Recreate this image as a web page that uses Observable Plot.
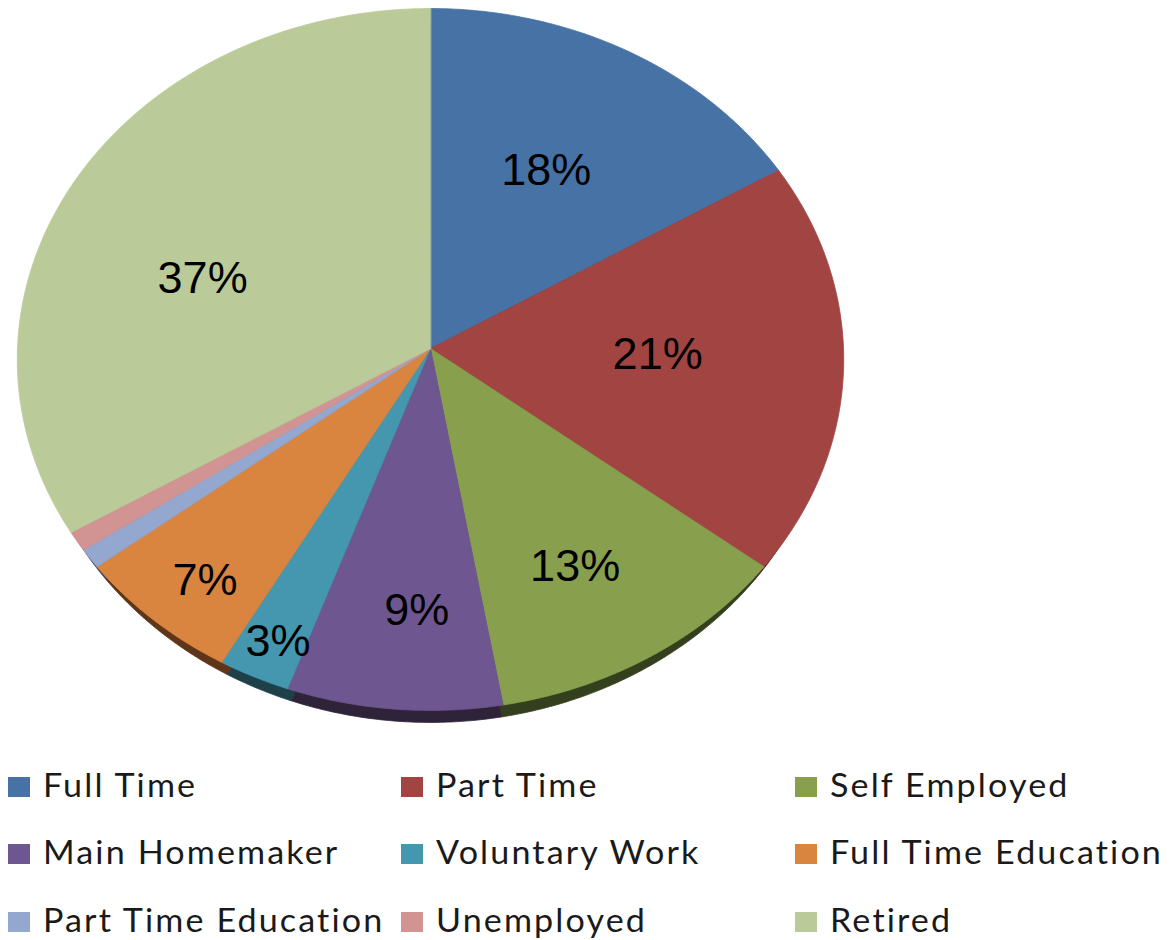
<!DOCTYPE html>
<html>
<head>
<meta charset="utf-8">
<script src="https://cdn.jsdelivr.net/npm/d3@7"></script>
<script src="https://cdn.jsdelivr.net/npm/@observablehq/plot@0.6"></script>
<style>
  html, body { margin: 0; padding: 0; background: #fff; }
  #wrap { position: relative; width: 1171px; height: 940px; overflow: hidden; }
  #legend { position: absolute; left: 0; top: 740px; width: 1171px; height: 200px; font-family: Lato, "Open Sans", sans-serif; font-size: 32px; color: #1a1a1a; }
  .item { position: absolute; height: 38px; line-height: 38px; white-space: nowrap; }
  .sw { position: absolute; width: 22px; height: 20px; }
  .tx { position: absolute; left: 35px; top: 0; letter-spacing: 2px; transform: scaleX(1.065); transform-origin: 0 0; }
</style>
</head>
<body>
<div id="wrap">
  <div id="chart"></div>
  <div id="legend"></div>
</div>
<script>
// ---- data ----
const categories = ["Full Time", "Part Time", "Self Employed", "Main Homemaker", "Voluntary Work",
  "Full Time Education", "Part Time Education", "Unemployed", "Retired"];
const values = [18, 21, 13, 9, 3, 7, 1, 1, 37];
const labels = ["18%", "21%", "13%", "9%", "3%", "7%", "", "", "37%"];
const colors = ["#4672A6", "#A14442", "#88A04E", "#6E5690", "#4497AE", "#DA853F", "#93A7CF", "#D29493", "#BACB99"];
const sideColors = ["#22374f", "#4e1f1f", "#333f1d", "#2e2339", "#1d4049", "#5e3518", "#3c4658", "#5a3a3a", "#4d5840"];

// ---- layout (3D tilted pie) ----
const W = 1171, H = 740;
const cx = 430, cy = 348, R = 413;       // apex and horizontal radius in px
const tilt = 350.6 / 413;                // vertical squash
const persp = 0.0313;                    // perspective (near side larger)
const depthPx = 12;                      // side wall thickness
// label placement: [fraction along slice angle, radius fraction]
const labelPlace = [[0.49, 0.59], [0.48, 0.55], [0.54, 0.70], [0.42, 0.73], [0.43, 0.89], [0.44, 0.84], null, null, [0.42, 0.59]];

function proj(u, v) {
  const w = 1 - persp * v;
  return [u / w, v * tilt / w];
}

const arcs = d3.pie().sort(null).value(d => d).startAngle(0).endAngle(2 * Math.PI)(values);

const topPts = [], sidePts = [], labelPts = [];
arcs.forEach((a, i) => {
  const key = categories[i];
  const n = Math.max(4, Math.ceil((a.endAngle - a.startAngle) / (Math.PI / 360)));
  const ring = [[0, 0]];
  for (let j = 0; j <= n; j++) {
    const t = a.startAngle + (a.endAngle - a.startAngle) * j / n;
    ring.push([Math.sin(t), -Math.cos(t)]);
  }
  ring.forEach(([u, v]) => {
    const [x, y] = proj(u, v);
    topPts.push({key, x, y});
    sidePts.push({key, x: x * 0.975, y: y + depthPx / R});
  });
  const lp = labelPlace[i];
  if (lp && labels[i]) {
    const t = a.startAngle + (a.endAngle - a.startAngle) * lp[0];
    const [x, y] = proj(lp[1] * Math.sin(t), -lp[1] * Math.cos(t));
    labelPts.push({key, x, y, text: labels[i]});
  }
});

const plot = Plot.plot({
  width: W,
  height: H,
  margin: 0,
  x: {domain: [-cx / R, (W - cx) / R], range: [0, W], axis: null},
  y: {domain: [-cy / R, (H - cy) / R], range: [0, H], axis: null},
  color: {domain: categories, range: colors},
  style: {background: "white"},
  marks: [
    Plot.line(sidePts, {x: "x", y: "y", z: "key", curve: "linear-closed",
      fill: d => sideColors[categories.indexOf(d.key)],
      stroke: d => sideColors[categories.indexOf(d.key)], strokeWidth: 0.8}),
    Plot.line(topPts, {x: "x", y: "y", z: "key", curve: "linear-closed",
      fill: "key", stroke: "key", strokeWidth: 0.8}),
    Plot.text(labelPts, {x: "x", y: "y", text: "text", fontSize: 45,
      fontFamily: "Arial, 'Liberation Sans', sans-serif", fill: "black"})
  ]
});
document.getElementById("chart").appendChild(plot);

// ---- legend ----
const legend = document.getElementById("legend");
const colX = [8, 401, 795];
const rowBase = [799, 866, 934];  // text baselines (page px)
const ascent = 32 * 0.987 + 1;    // baseline offset within 38px line box
categories.forEach((c, i) => {
  const col = i % 3, row = Math.floor(i / 3);
  const top = rowBase[row] - ascent - 740;
  const item = document.createElement("div");
  item.className = "item";
  item.style.left = colX[col] + "px";
  item.style.top = top + "px";
  const sw = document.createElement("span");
  sw.className = "sw";
  sw.style.background = colors[i];
  sw.style.left = "0px";
  sw.style.top = (rowBase[row] - 22 - 740 - top) + "px";
  item.appendChild(sw);
  const tx = document.createElement("span");
  tx.className = "tx";
  tx.textContent = c;
  item.appendChild(tx);
  legend.appendChild(item);
});
</script>
</body>
</html>
